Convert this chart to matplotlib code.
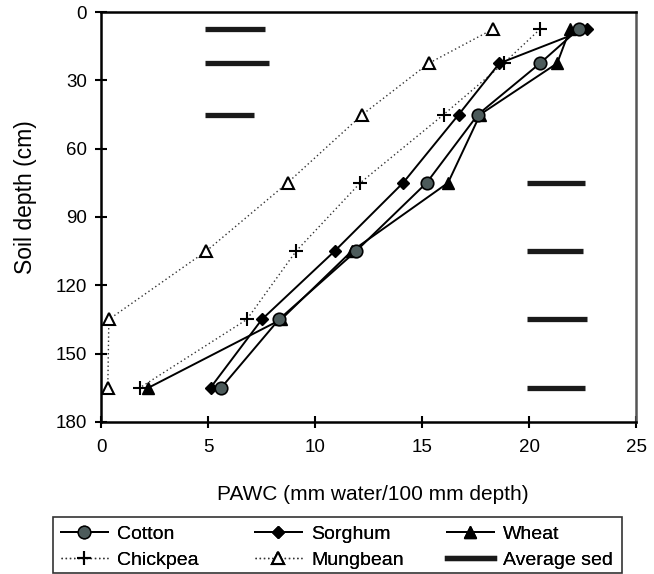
import matplotlib
matplotlib.use("Agg")
import matplotlib.pyplot as plt
from matplotlib.lines import Line2D
from matplotlib.patches import Rectangle

plt.rcParams['font.family'] = ['Liberation Sans', 'DejaVu Sans']

depth = [7.5, 22.5, 45, 75, 105, 135, 165]
cotton = [22.3, 20.5, 17.6, 15.2, 11.9, 8.3, 5.6]
sorghum = [22.7, 18.6, 16.7, 14.1, 10.9, 7.5, 5.1]
wheat = [21.9, 21.3, 17.7, 16.2, 11.7, 8.4, 2.2]
chickpea = [20.5, 18.8, 16.0, 12.1, 9.1, 6.8, 1.8]
mungbean = [18.3, 15.3, 12.2, 8.7, 4.9, 0.35, 0.3]
sed_depth = [7.5, 22.5, 45, 75, 105, 135, 165]
sed_value = [2.8, 3.0, 2.3, 2.7, 2.6, 2.8, 2.7]
sed_start = [4.85, 4.85, 4.85, 19.9, 19.9, 19.9, 19.9]

W, H = 654, 574
fig = plt.figure(figsize=(W / 100, H / 100), dpi=100)
ax = fig.add_axes([0.155, 0.265, 0.818, 0.714])

dot = (0, (1, 2))
ax.plot(mungbean, depth, linestyle=dot, color='#333333', lw=1.0,
        marker='^', ms=8, mfc='white', mec='black', mew=1.5, label='Mungbean', zorder=2)
ax.plot(chickpea, depth, linestyle=dot, color='#333333', lw=1.0,
        marker='+', ms=10, mec='black', mew=1.5, label='Chickpea', zorder=2)
ax.plot(sorghum, depth, '-', color='black', lw=1.4,
        marker='D', ms=6, mfc='black', mec='black', label='Sorghum', zorder=3)
ax.plot(wheat, depth, '-', color='black', lw=1.4,
        marker='^', ms=9, mfc='black', mec='black', label='Wheat', zorder=3)
ax.plot(cotton, depth, '-', color='black', lw=1.4,
        marker='o', ms=9, mfc='#4d5b5b', mec='black', mew=1.2, label='Cotton', zorder=4)

for d, v, s in zip(sed_depth, sed_value, sed_start):
    ax.plot([s, s + v], [d, d], '-', color='#1a1a1a', lw=3.8, solid_capstyle='butt', zorder=2)

ax.set_xlim(0, 25)
ax.set_ylim(180, 0)
ax.set_xticks([0, 5, 10, 15, 20, 25])
ax.set_yticks([0, 30, 60, 90, 120, 150, 180])
ax.tick_params(direction='inout', length=9, width=1.5, labelsize=13.5)
ax.tick_params(axis='x', pad=8)
ax.tick_params(axis='y', pad=6)
for s in ['left', 'bottom', 'top']:
    ax.spines[s].set_linewidth(1.8)
ax.spines['right'].set_linewidth(1.8)
ax.spines['right'].set_color('#555555')

ax.set_xlabel('PAWC (mm water/100 mm depth)', fontsize=15)
ax.xaxis.set_label_coords(0.507, -0.155)
ax.set_ylabel('Soil depth (cm)', fontsize=16.5)
ax.yaxis.set_label_coords(-0.12, 0.549)

# legend frame
fig.add_artist(Rectangle((53 / W, 1 - 573 / H), 569 / W, 56 / H, transform=fig.transFigure,
                         fill=False, edgecolor='#333333', lw=1.2))

handles = [
    Line2D([], [], color='black', lw=1.4, marker='o', ms=9, mfc='#4d5b5b', mec='black'),
    Line2D([], [], color='#333333', lw=1.0, linestyle=dot, marker='+', ms=10, mew=1.5, mec='black'),
    Line2D([], [], color='black', lw=1.4, marker='D', ms=6, mfc='black'),
    Line2D([], [], color='#333333', lw=1.0, linestyle=dot, marker='^', ms=8, mfc='white', mec='black', mew=1.5),
    Line2D([], [], color='black', lw=1.4, marker='^', ms=9, mfc='black'),
    Line2D([], [], color='#1a1a1a', lw=3.8),
]
labels = ['Cotton', 'Chickpea', 'Sorghum', 'Mungbean', 'Wheat', 'Average sed']
col_x = [61, 255, 447]
for i, cx in enumerate(col_x):
    lg = fig.legend(handles[2 * i:2 * i + 2], labels[2 * i:2 * i + 2], loc='upper left',
                    bbox_to_anchor=(cx / W, 1 - 525 / H), borderaxespad=0, borderpad=0,
                    fontsize=14, frameon=False, handlelength=2.4, handletextpad=0.5,
                    labelspacing=0.45)
    fig.add_artist(lg)

fig.savefig('out.png', dpi=100)
